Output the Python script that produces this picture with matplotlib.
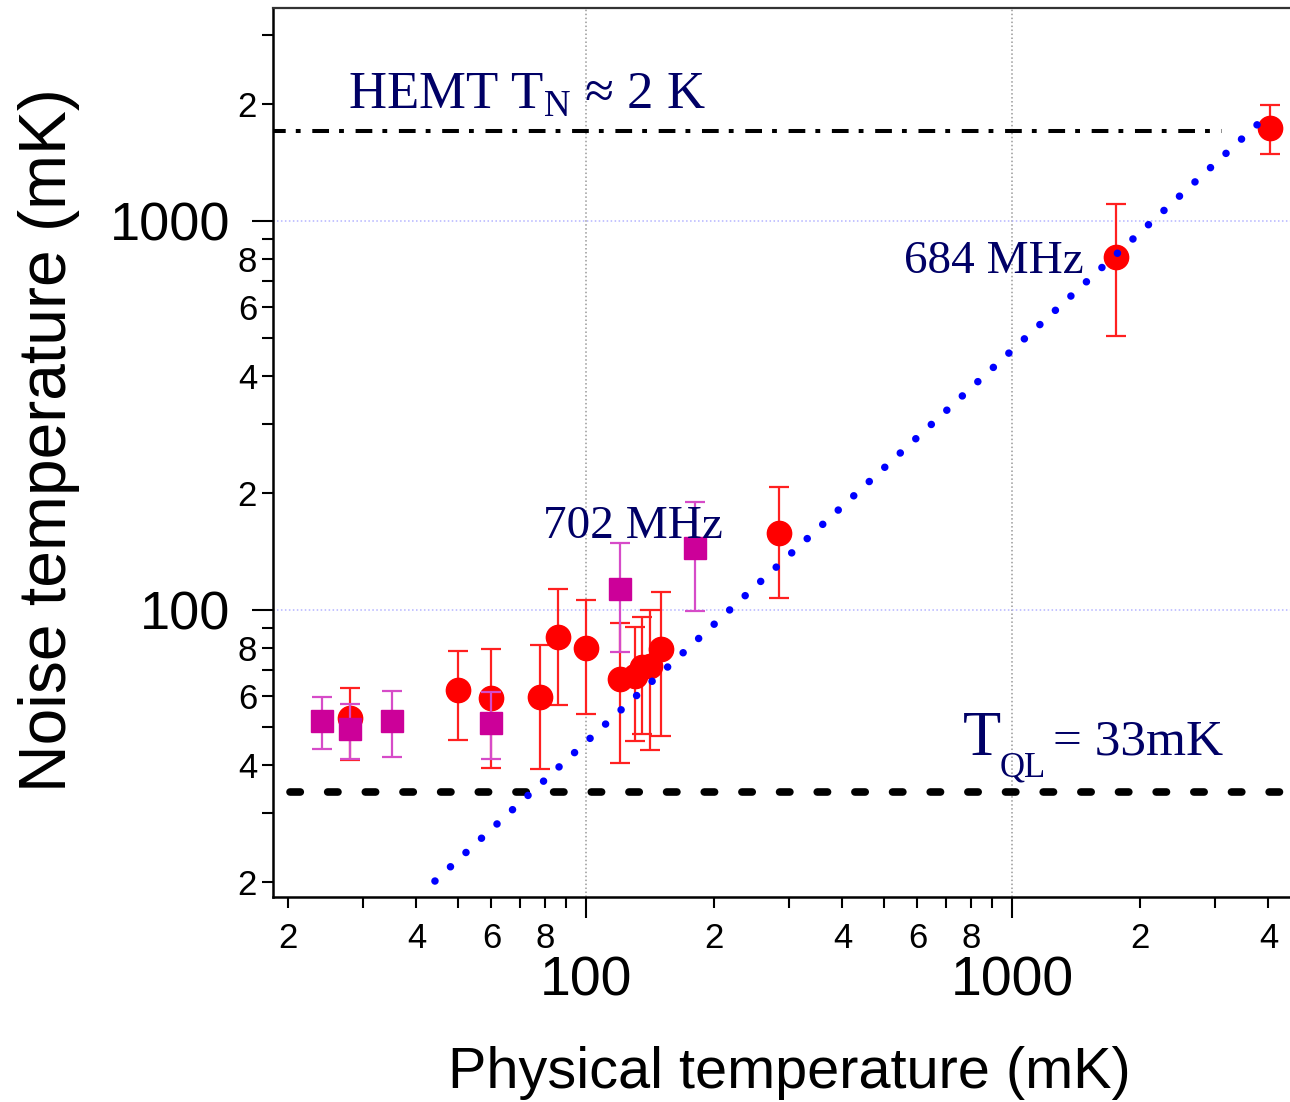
import matplotlib
matplotlib.use("Agg")
import matplotlib.pyplot as plt

# Данные (мК)
red_x = [28, 50, 60, 78, 86, 100, 120, 130, 135, 141, 150, 284, 1754, 4033]
red_y = [52.8, 62.3, 59.3, 59.8, 85.1, 80, 66.5, 67.6, 71.5, 71.8, 79.4, 157.8, 808, 1731]
red_hi = [63, 78.5, 79.4, 81.4, 113, 106, 92.8, 90.3, 96.1, 100, 111.4, 207, 1108, 1983]
red_lo = [41.1, 46.4, 39.3, 39.1, 57, 54, 40.5, 46.0, 48.0, 43.6, 47.5, 107.4, 507, 1484]

mag_x = [24, 28, 35.1, 60, 120, 180]
mag_y = [51.9, 49.4, 51.9, 51.3, 113, 144.6]
mag_hi = [59.7, 57.4, 61.9, 61.5, 148.4, 189.5]
mag_lo = [43.9, 41.3, 42.0, 41.3, 78.2, 99.6]

# классическая прямая T_N ~ T (концы)
line_x = [44.2, 3780]
line_y = [20.1, 1776]

hemt_level = 1704
hemt_x = [18.0, 3112]
tql_level = 34.0
tql_x = [20.2, 6000]

x_major = [100, 1000]
x_major_labels = ["100", "1000"]
x_minor = [20, 30, 40, 50, 60, 70, 80, 90, 200, 300, 400, 500, 600, 700, 800, 900, 2000, 3000, 4000]
x_minor_labels = ["2", "", "4", "", "6", "", "8", "", "2", "", "4", "", "6", "", "8", "", "2", "", "4"]
y_major = [100, 1000]
y_major_labels = ["100", "1000"]
y_minor = [20, 30, 40, 50, 60, 70, 80, 90, 200, 300, 400, 500, 600, 700, 800, 900, 2000, 3000]
y_minor_labels = ["2", "", "4", "", "6", "", "8", "", "2", "", "4", "", "6", "", "8", "", "2", ""]

plt.rcParams['font.family'] = ['Liberation Sans', 'DejaVu Sans']
plt.rcParams['mathtext.fontset'] = 'custom'
plt.rcParams['mathtext.rm'] = 'Liberation Serif'

navy = '#000066'
serif = ['Liberation Serif', 'DejaVu Serif']

fig = plt.figure(figsize=(12.9, 11.02), dpi=100)
ax = fig.add_axes([273 / 1290, (1102 - 897) / 1102, 1017 / 1290, 889 / 1102])
ax.set_xscale('log')
ax.set_yscale('log')
ax.set_xlim(18.42, 4494)
ax.set_ylim(18.29, 3528)

# сетка только на декадах
ax.xaxis.grid(True, which='major', color='#999999', linestyle=(0, (1, 1.6)), linewidth=1.1)
ax.yaxis.grid(True, which='major', color='#b4b4ff', linestyle=(0, (1, 1.6)), linewidth=1.1)
ax.set_axisbelow(True)

# уровни HEMT и квантового предела
ax.plot(hemt_x, [hemt_level, hemt_level], color='k', lw=2.9,
        linestyle=(0, (4.15, 2.5, 1.2, 2.9)), dash_capstyle='butt', zorder=2)
ax.plot(tql_x, [tql_level, tql_level], color='k', lw=5.5,
        linestyle=(0, (1.35, 3.58)), dash_capstyle='round', zorder=2)

# данные
ax.errorbar(red_x, red_y,
            yerr=[[y - lo for y, lo in zip(red_y, red_lo)], [hi - y for y, hi in zip(red_y, red_hi)]],
            fmt='o', ms=17.5, color='#ff0000', mec='#ff0000', ecolor='#ff2020',
            elinewidth=1.6, capsize=7.5, capthick=1.6, zorder=3)
ax.errorbar(mag_x, mag_y,
            yerr=[[y - lo for y, lo in zip(mag_y, mag_lo)], [hi - y for y, hi in zip(mag_y, mag_hi)]],
            fmt='s', ms=16.5, color='#cc0099', mec='#cc0099', ecolor='#d64bc8',
            elinewidth=1.6, capsize=7.5, capthick=1.6, zorder=4)

ax.plot(line_x, line_y, color='#0000ff', lw=5.4, linestyle=(0, (0.01, 2.8)),
        dash_capstyle='round', zorder=5)

# подписи
ax.text(27.6, 1952, r'HEMT T$_{\mathrm{N}}$ ≈ 2 K', color=navy, fontsize=38,
        family=serif, va='baseline', ha='left', zorder=6)
ax.text(1476, 734, '684 MHz', color=navy, fontsize=34, family=serif,
        va='baseline', ha='right', zorder=6)
ax.text(79.3, 153, '702 MHz', color=navy, fontsize=34, family=serif,
        va='baseline', ha='left', zorder=6)
ax.text(765.6, 42.4, 'T', color=navy, fontsize=45, family=serif,
        va='baseline', ha='left', zorder=6)
ax.text(937.6, 37.4, 'QL', color=navy, fontsize=25, family=serif,
        va='baseline', ha='left', zorder=6)
ax.text(1248, 42.4, '= 33mK', color=navy, fontsize=37, family=serif,
        va='baseline', ha='left', zorder=6)

# оси и деления
ax.set_xticks(x_major)
ax.set_xticklabels(x_major_labels)
ax.set_xticks(x_minor, minor=True)
ax.set_xticklabels(x_minor_labels, minor=True)
ax.set_yticks(y_major)
ax.set_yticklabels(y_major_labels)
ax.set_yticks(y_minor, minor=True)
ax.set_yticklabels(y_minor_labels, minor=True)

ax.tick_params(which='major', direction='out', length=15, width=1.5)
ax.tick_params(which='minor', direction='out', length=8, width=1.5)
ax.tick_params(axis='x', which='major', labelsize=40, pad=27)
ax.tick_params(axis='x', which='minor', labelsize=25, pad=10)
ax.tick_params(axis='y', which='major', labelsize=39, pad=16)
ax.tick_params(axis='y', which='minor', labelsize=25, pad=3.5)

for side in ['left', 'bottom']:
    ax.spines[side].set_linewidth(1.8)
ax.spines['top'].set_linewidth(1.6)
ax.spines['top'].set_color('#333333')
ax.spines['right'].set_visible(False)

ax.set_xlabel('Physical temperature (mK)', fontsize=41.5)
ax.set_ylabel('Noise temperature (mK)', fontsize=47.5)
ax.xaxis.set_label_coords(0.508, -0.168)
ax.yaxis.set_label_coords(-0.19, 0.514)

fig.savefig('out.png', dpi=100)
